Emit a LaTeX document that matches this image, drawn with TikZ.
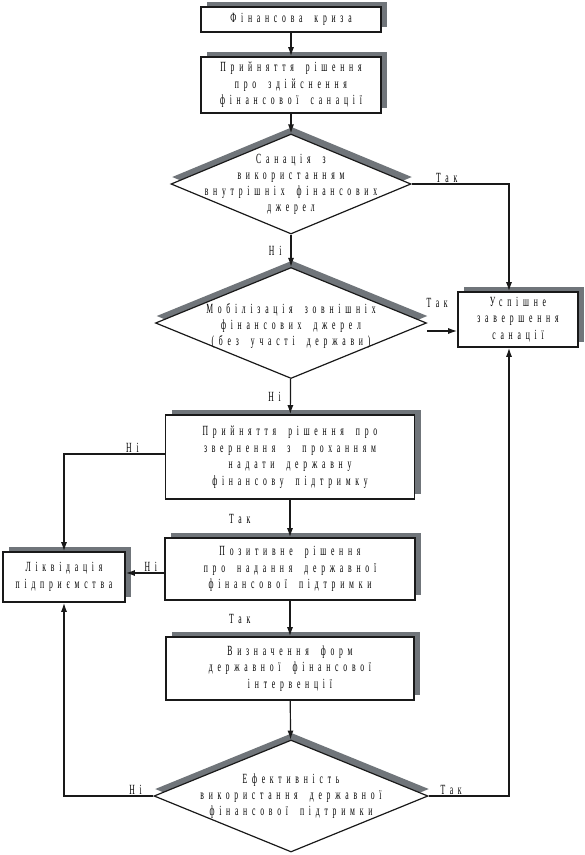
\documentclass[tikz,border=0pt]{standalone}
\usepackage{fontspec}
\newfontfamily\flowfont{Liberation Serif}[FakeStretch=0.55,LetterSpace=34,WordSpace=1.8]
\usepackage{tikz}
\usetikzlibrary{shapes.geometric,arrows.meta,shadows}
\definecolor{ShadowGray}{RGB}{112,117,122}
\definecolor{InkBlack}{RGB}{25,25,25}

\begin{document}
\begin{tikzpicture}[x=1pt,y=-1pt,
  stagebox/.style={draw=InkBlack,fill=white,line width=1.7pt,align=center,inner sep=1pt,
    font=\flowfont\fontsize{14}{16.5}\selectfont,
    general shadow={fill=ShadowGray,shadow xshift=6pt,shadow yshift=5pt}},
  choice/.style={diamond,draw=InkBlack,fill=white,line width=1.2pt,inner sep=0pt,
    general shadow={fill=ShadowGray,shadow xshift=1pt,shadow yshift=7pt}},
  choicetext/.style={align=center,inner sep=0pt,font=\flowfont\fontsize{14}{16}\selectfont},
  flow/.style={draw=InkBlack,line width=1.2pt,-{Latex[length=9pt,width=6pt]}},
  answer/.style={inner sep=1pt,font=\flowfont\fontsize{14}{16}\selectfont}]
  \useasboundingbox (0,0) rectangle (585,855);

  % top boxes
  \node[stagebox,minimum width=180pt,minimum height=25pt] (crisis) at (291,19.5) {Фінансова криза};
  \node[stagebox,minimum width=180pt,minimum height=56pt] (decide) at (291,85)
    {Прийняття рішення\\про здійснення\\фінансової санації};

  % internal sources
  \node[choice,minimum width=240pt,minimum height=100pt] (inner) at (291,184) {};
  \node[choicetext] (innertxt) at (inner) {Санація з\\використанням\\внутрішніх фінансових\\джерел};

  % external sources
  \node[choice,minimum width=271pt,minimum height=111pt] (outer) at (291,323) {};
  \node[choicetext] (outertxt) at ([yshift=-3pt]outer.center) {Мобілізація зовнішніх\\фінансових джерел\\(без участі держави)};

  % success box
  \node[stagebox,minimum width=120pt,minimum height=55pt] (success) at (518,319.5)
    {Успішне\\завершення\\санації};

  % state support
  \node[stagebox,minimum width=249pt,minimum height=84pt] (appeal) at (290,457)
    {Прийняття рішення про\\звернення з проханням\\надати державну\\фінансову підтримку};
  \node[stagebox,minimum width=250pt,minimum height=62pt] (approve) at (290,569)
    {Позитивне рішення\\про надання державної\\фінансової підтримки};
  \node[stagebox,minimum width=248pt,minimum height=63pt] (forms) at (290,668.5)
    {Визначення форм\\державної фінансової\\інтервенції};

  % liquidation
  \node[stagebox,minimum width=122pt,minimum height=50pt] (liquid) at (64,577)
    {Ліквідація\\підприємства};

  % efficiency
  \node[choice,minimum width=274pt,minimum height=112pt] (effect) at (291,796) {};
  \node[choicetext] (effecttxt) at (effect) {Ефективність\\використання державної\\фінансової підтримки};

  % main column
  \draw[flow] (crisis) -- (decide);
  \draw[flow] (decide) -- (inner);
  \draw[flow] (inner) -- node[answer,left=8pt] {Ні} (outer);
  \draw[flow] (outer) -- node[answer,left=8pt] {Ні} (appeal);
  \draw[flow] (appeal) -- node[answer,left=38pt] {Так} (approve);
  \draw[flow] (approve) -- node[answer,left=38pt] {Так} (forms);
  \draw[flow] (forms) -- (effect);

  % branches
  \draw[flow] (inner.east) -| node[answer,above,pos=0.18] {Так} ([xshift=-9pt]success.north);
  \draw[flow] ([yshift=-8pt]outer.east) -- ([yshift=-8pt]outer.east -| success.west);
  \node[answer] at ([xshift=10pt,yshift=20pt]outer.east) {Так};
  \draw[flow] ([yshift=3pt]appeal.west) -| node[answer,above,pos=0.16] {Ні} (liquid.north);
  \draw[flow] ([yshift=-4pt]approve.west) -- node[answer,above,pos=0.35] {Ні} ([yshift=-4pt]approve.west -| liquid.east);
  \draw[flow] (effect.west) -| node[answer,above,pos=0.1] {Ні} (liquid.south);
  \draw[flow] (effect.east) -| node[answer,above,pos=0.14] {Так} ([xshift=-9pt]success.south);
\end{tikzpicture}
\end{document}
